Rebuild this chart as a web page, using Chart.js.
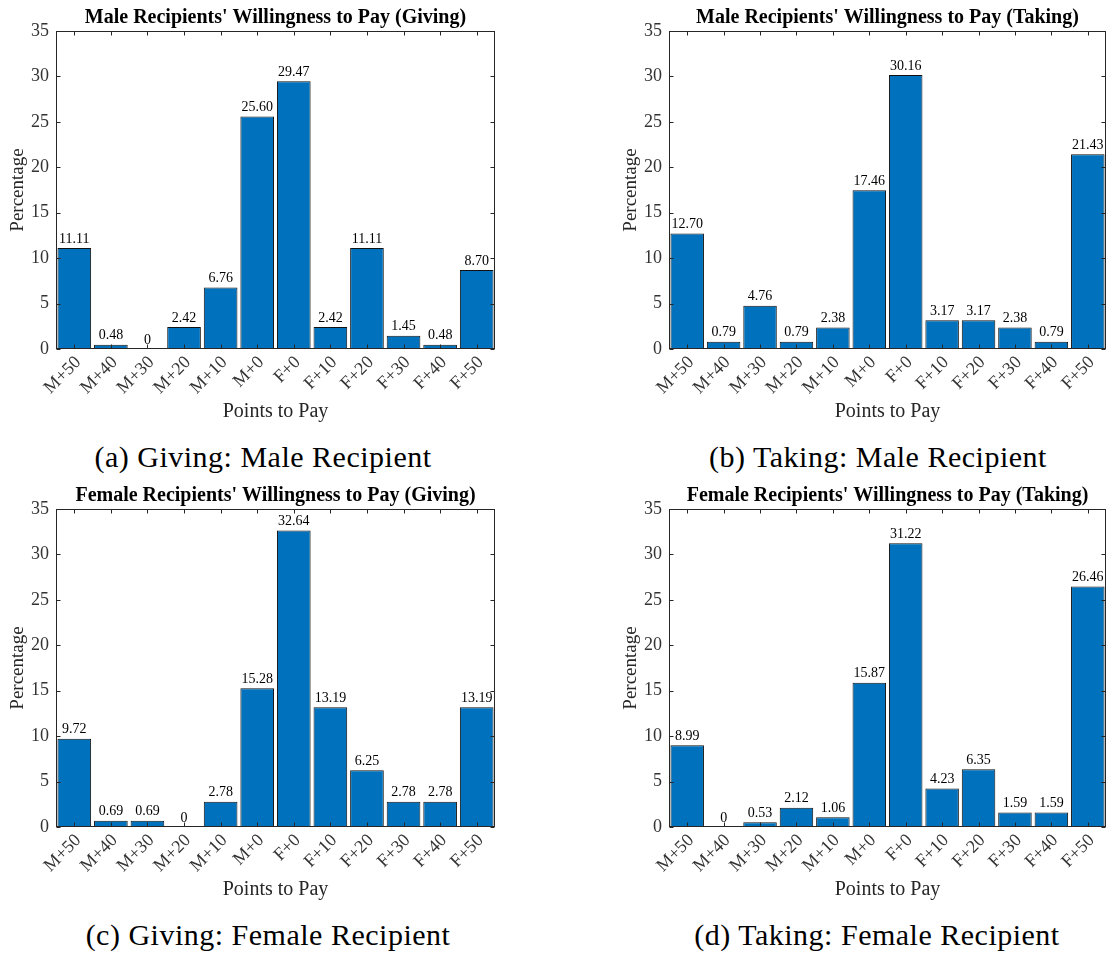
<!DOCTYPE html>
<html>
<head>
<meta charset="utf-8">
<script src="https://cdn.jsdelivr.net/npm/chart.js@4.4.1/dist/chart.umd.min.js"></script>
<style>
  body { margin: 0; background: #fff; width: 1109px; height: 956px; position: relative; overflow: hidden; }
  canvas { position: absolute; }
  .caption {
    position: absolute;
    font-family: "Liberation Serif", serif;
    font-size: 30px;
    letter-spacing: 0.5px;
    line-height: 34px;
    color: #000;
    white-space: nowrap;
    transform: translateX(-50%);
  }
</style>
</head>
<body>
<canvas id="chart-a" width="500" height="428" style="left:0;top:0"></canvas>
<canvas id="chart-b" width="496" height="428" style="left:613px;top:0"></canvas>
<canvas id="chart-c" width="500" height="428" style="left:0;top:478px"></canvas>
<canvas id="chart-d" width="496" height="428" style="left:613px;top:478px"></canvas>

<div class="caption" style="left:263px;top:440px">(a) Giving: Male Recipient</div>
<div class="caption" style="left:878px;top:440px">(b) Taking: Male Recipient</div>
<div class="caption" style="left:268px;top:918px">(c) Giving: Female Recipient</div>
<div class="caption" style="left:877px;top:918px">(d) Taking: Female Recipient</div>

<script>
// Nhãn trục x
const categories = ["M+50", "M+40", "M+30", "M+20", "M+10", "M+0", "F+0", "F+10", "F+20", "F+30", "F+40", "F+50"];

// Dữ liệu phần trăm cho 4 biểu đồ
const givingMale = [11.11, 0.48, 0, 2.42, 6.76, 25.60, 29.47, 2.42, 11.11, 1.45, 0.48, 8.70];
const takingMale = [12.70, 0.79, 4.76, 0.79, 2.38, 17.46, 30.16, 3.17, 3.17, 2.38, 0.79, 21.43];
const givingFemale = [9.72, 0.69, 0.69, 0, 2.78, 15.28, 32.64, 13.19, 6.25, 2.78, 2.78, 13.19];
const takingFemale = [8.99, 0, 0.53, 2.12, 1.06, 15.87, 31.22, 4.23, 6.35, 1.59, 1.59, 26.46];

// Vạch chia trục y
const yTicks = [0, 5, 10, 15, 20, 25, 30, 35];

const SERIF = "'Liberation Serif', 'Times New Roman', serif";
const AXIS_COLOR = "#262626";

// Vẽ khung và vạch chia bên trong (kiểu MATLAB)
const framePlugin = {
    id: "frame",
    afterDraw(chart) {
        const { ctx, chartArea: a, scales } = chart;
        const l = Math.round(a.left) + 0.5;
        const r = Math.round(a.right) - 0.5;
        const t = Math.round(a.top) + 0.5;
        const b = Math.round(a.bottom) - 0.5;
        ctx.save();
        ctx.strokeStyle = AXIS_COLOR;
        ctx.lineWidth = 1;
        ctx.strokeRect(l, t, r - l, b - t);
        ctx.beginPath();
        categories.forEach((_, i) => {
            const x = Math.round(scales.x.getPixelForTick(i)) + 0.5;
            ctx.moveTo(x, b); ctx.lineTo(x, b - 4);
            ctx.moveTo(x, t); ctx.lineTo(x, t + 4);
        });
        yTicks.forEach(v => {
            const y = Math.round(scales.y.getPixelForValue(v)) + 0.5;
            ctx.moveTo(l, y); ctx.lineTo(l + 4, y);
            ctx.moveTo(r, y); ctx.lineTo(r - 4, y);
        });
        ctx.stroke();
        ctx.restore();
    }
};

// Ghi giá trị phía trên mỗi cột
const valueLabelPlugin = {
    id: "valueLabels",
    afterDatasetsDraw(chart) {
        const { ctx } = chart;
        const meta = chart.getDatasetMeta(0);
        const values = chart.data.datasets[0].data;
        ctx.save();
        ctx.font = "14px " + SERIF;
        ctx.fillStyle = "#000";
        ctx.textAlign = "center";
        ctx.textBaseline = "bottom";
        meta.data.forEach((bar, i) => {
            const text = values[i] === 0 ? "0" : values[i].toFixed(2);
            ctx.fillText(text, bar.x, bar.y - 2);
        });
        ctx.restore();
    }
};

function makeChart(id, title, values) {
    const canvas = document.getElementById(id);
    const plotRight = (id === "chart-a" || id === "chart-c") ? 495 : 493;
    return new Chart(canvas.getContext("2d"), {
        type: "bar",
        data: {
            labels: categories,
            datasets: [{
                data: values,
                backgroundColor: "#0072BD",
                borderColor: "#111",
                borderWidth: 1,
                barPercentage: 0.92,
                categoryPercentage: 1
            }]
        },
        options: {
            responsive: false,
            animation: false,
            devicePixelRatio: 1,
            layout: { padding: { left: 0, right: canvas.width - plotRight, top: 0, bottom: 0 } },
            plugins: {
                legend: { display: false },
                tooltip: { enabled: false },
                title: {
                    display: true,
                    text: title,
                    fullSize: false,
                    color: "#000",
                    font: { family: SERIF, size: 20, weight: "bold" },
                    padding: { top: 6, bottom: 1 }
                }
            },
            scales: {
                x: {
                    grid: { display: false, drawTicks: false },
                    border: { display: false },
                    ticks: {
                        autoSkip: false,
                        minRotation: 45,
                        maxRotation: 45,
                        padding: 3,
                        labelOffset: 4,
                        color: "#333",
                        font: { family: SERIF, size: 18 }
                    },
                    title: {
                        display: true,
                        text: "Points to Pay",
                        color: "#262626",
                        font: { family: SERIF, size: 20 },
                        padding: { top: 0, bottom: 4 }
                    },
                    afterFit(scale) { scale.height = 428 - 349; }
                },
                y: {
                    min: 0,
                    max: 35,
                    grid: { display: false, drawTicks: false },
                    border: { display: false },
                    ticks: {
                        stepSize: 5,
                        padding: 7,
                        color: "#333",
                        font: { family: SERIF, size: 18 }
                    },
                    title: {
                        display: true,
                        text: "Percentage",
                        color: "#262626",
                        font: { family: SERIF, size: 19 },
                        padding: { top: 7, bottom: 0 }
                    },
                    afterFit(scale) { scale.width = 56; }
                }
            }
        },
        plugins: [framePlugin, valueLabelPlugin]
    });
}

makeChart("chart-a", "Male Recipients' Willingness to Pay (Giving)", givingMale);
makeChart("chart-b", "Male Recipients' Willingness to Pay (Taking)", takingMale);
makeChart("chart-c", "Female Recipients' Willingness to Pay (Giving)", givingFemale);
makeChart("chart-d", "Female Recipients' Willingness to Pay (Taking)", takingFemale);
</script>
</body>
</html>
